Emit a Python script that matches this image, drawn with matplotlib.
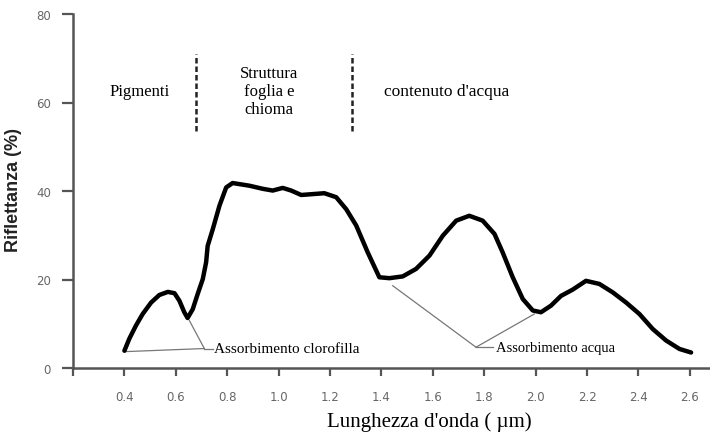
import matplotlib.pyplot as plt

# Reflectance spectrum of green vegetation
wavelength = [0.400, 0.419, 0.445, 0.471, 0.504, 0.536, 0.569, 0.595, 0.614, 0.633,
              0.646, 0.666, 0.685, 0.705, 0.718, 0.724, 0.744, 0.770, 0.796, 0.821,
              0.886, 0.938, 0.977, 1.016, 1.049, 1.088, 1.133, 1.178, 1.224, 1.263,
              1.302, 1.347, 1.392, 1.431, 1.483, 1.535, 1.587, 1.639, 1.691, 1.742,
              1.794, 1.840, 1.872, 1.911, 1.950, 1.989, 2.021, 2.060, 2.099, 2.144,
              2.196, 2.248, 2.300, 2.352, 2.404, 2.456, 2.508, 2.560, 2.605]
reflectance = [3.9, 6.6, 9.6, 12.2, 14.8, 16.5, 17.2, 16.9, 15.2, 12.6,
               11.3, 13.3, 16.7, 20.1, 23.9, 27.6, 31.4, 36.7, 40.8, 41.8,
               41.2, 40.5, 40.1, 40.7, 40.1, 39.1, 39.3, 39.5, 38.6, 35.9,
               32.2, 26.1, 20.5, 20.3, 20.7, 22.4, 25.4, 29.9, 33.3, 34.4,
               33.3, 30.3, 26.1, 20.5, 15.6, 13.0, 12.6, 14.1, 16.3, 17.7,
               19.7, 19.0, 17.1, 14.8, 12.2, 8.8, 6.2, 4.3, 3.5]

x_ticks = [0.2, 0.4, 0.6, 0.8, 1.0, 1.2, 1.4, 1.6, 1.8, 2.0, 2.2, 2.4, 2.6]
x_tick_labels = ['', '0.4', '0.6', '0.8', '1.0', '1.2', '1.4', '1.6', '1.8', '2.0', '2.2', '2.4', '2.6']
y_ticks = [0, 20, 40, 60, 80]

region_bounds = [0.68, 1.287]

serif = ['Liberation Serif', 'DejaVu Serif']
sans = ['Liberation Sans', 'DejaVu Sans']
axis_grey = '#555555'

fig = plt.figure(figsize=(7.1, 4.35), dpi=100)
ax = fig.add_axes([73 / 710, 66 / 435, 637 / 710, 354 / 435])

ax.plot(wavelength, reflectance, color='black', lw=3.2, solid_capstyle='round',
        solid_joinstyle='round', zorder=3)

# region separators
for xb in region_bounds:
    ax.plot([xb, xb], [53.6, 71], color='#222222', lw=1.8, ls=(0, (2.2, 1.2)))

ax.text(0.458, 62.6, 'Pigmenti', family=serif, fontsize=12, ha='center', va='center')
ax.text(0.964, 62.6, 'Struttura\nfoglia e\nchioma', family=serif, fontsize=12,
        ha='center', va='center', linespacing=1.15)
ax.text(1.41, 62.6, "contenuto d'acqua", family=serif, fontsize=12.5, ha='left', va='center')

# absorption annotations
leader = dict(color='#777777', lw=0.9)
ax.plot([0.403, 0.711], [3.7, 4.4], **leader)
ax.plot([0.653, 0.711], [10.7, 4.4], **leader)
ax.plot([0.711, 0.743], [4.4, 4.4], **leader)
ax.text(0.75, 4.4, 'Assorbimento clorofilla', family=serif, fontsize=11, va='center')

ax.plot([1.444, 1.768], [18.6, 4.7], **leader)
ax.plot([1.995, 1.768], [12.2, 4.7], **leader)
ax.plot([1.768, 1.833], [4.7, 4.7], **leader)
ax.text(1.846, 4.7, 'Assorbimento acqua', family=serif, fontsize=10.5, va='center')

ax.set_xlim(0.2, 0.2 + 637 / 257)
ax.set_ylim(0, 80)
ax.set_xticks(x_ticks)
ax.set_xticklabels(x_tick_labels)
ax.set_yticks(y_ticks)

for side in ['top', 'right']:
    ax.spines[side].set_visible(False)
for side in ['left', 'bottom']:
    ax.spines[side].set_color(axis_grey)
    ax.spines[side].set_linewidth(1.8)

ax.tick_params(axis='x', direction='out', length=6, width=1.6, color=axis_grey,
               labelsize=8.5, labelcolor='#666666', pad=10)
ax.tick_params(axis='y', direction='out', length=8, width=1.6, color=axis_grey,
               labelsize=8.5, labelcolor='#666666', pad=8)

ax.set_xlabel("Lunghezza d'onda ( µm)", family=serif, fontsize=15, va='center')
ax.xaxis.set_label_coords((429 - 73) / 637, -0.150)
ax.set_ylabel('Riflettanza (%)', family=sans, fontsize=13, fontweight='bold',
              va='center', color='#222222')
ax.yaxis.set_label_coords(-0.094, 0.506)

fig.savefig('out.png', dpi=100)
